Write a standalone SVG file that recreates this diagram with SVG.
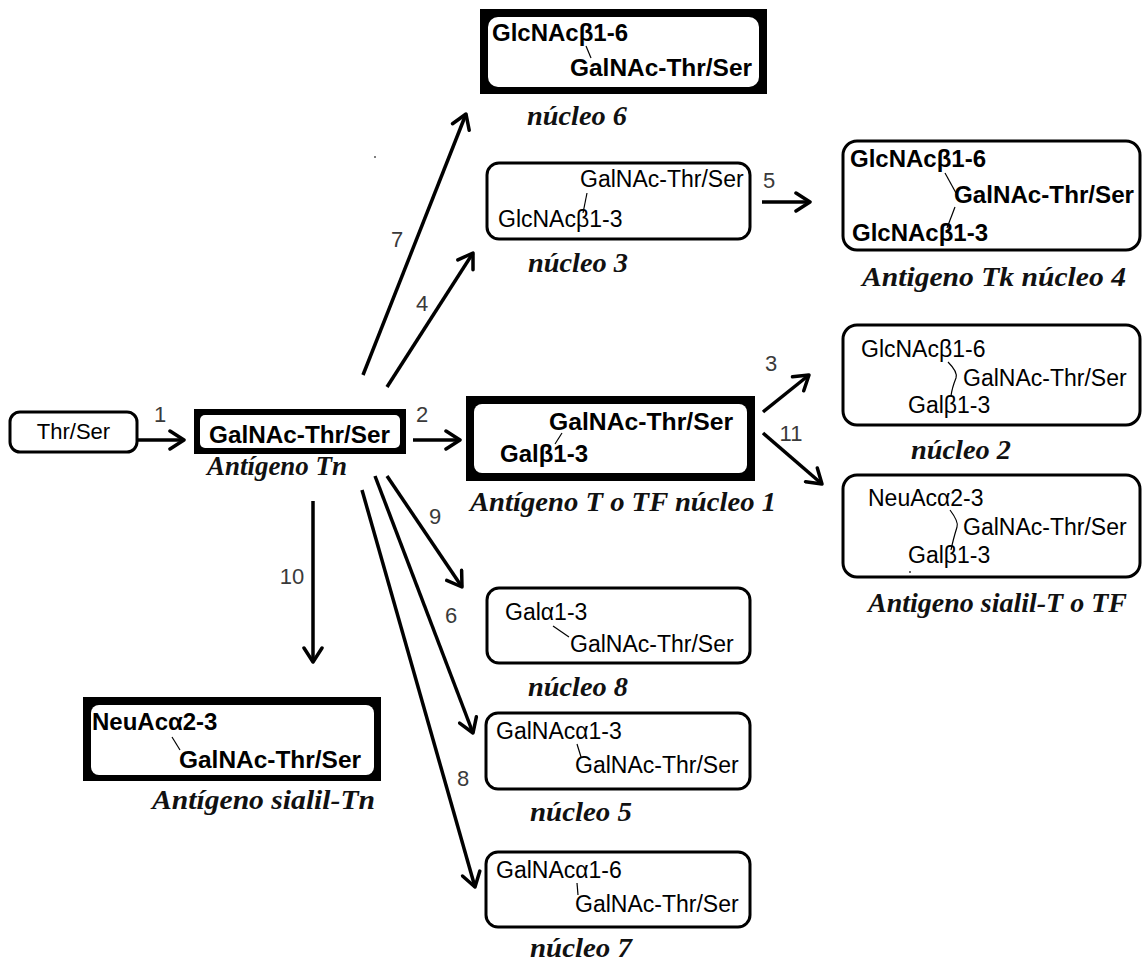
<svg xmlns="http://www.w3.org/2000/svg" width="1144" height="963" viewBox="0 0 1144 963">
<defs>
<style>
.box{fill:#fff;stroke:#000;stroke-width:3}
.blk{fill:#000}
.inner{fill:#fff}
.t{font-family:"Liberation Sans",Arial,sans-serif;font-size:23px;fill:#000}
.b{font-weight:bold;font-size:24px}
.lab{font-family:"Liberation Serif","Times New Roman",serif;font-style:italic;font-weight:bold;font-size:28px;fill:#111}
.num{font-family:"Liberation Sans",Arial,sans-serif;font-size:22px;fill:#3a3a3a;text-anchor:middle}
.link{stroke:#000;stroke-width:1.2;fill:none}
.arr{stroke:#000;stroke-width:3.5;fill:none;marker-end:url(#ah)}
</style>
<marker id="ah" viewBox="0 0 20 22" refX="17" refY="11" markerWidth="20" markerHeight="22" markerUnits="userSpaceOnUse" orient="auto">
<path d="M3,2 L17,11 L3,20" fill="none" stroke="#000" stroke-width="3.5" stroke-linecap="round" stroke-linejoin="round"/>
</marker>
</defs>
<rect width="1144" height="963" fill="#fff"/>

<g id="connectors">
<path class="arr" d="M137,440 L184,440"/>
<path class="arr" d="M413,440 L460,440"/>
<path class="arr" d="M363,375 L466,114"/>
<path class="arr" d="M387,387 L473,253"/>
<path class="arr" d="M762,202 L810,202"/>
<path class="arr" d="M763,412 L809,375"/>
<path class="arr" d="M763,433 L822,484"/>
<path class="arr" d="M387,476 L462,587"/>
<path class="arr" d="M375,476 L473,733"/>
<path class="arr" d="M362,490 L475,887"/>
<path class="arr" d="M313,501 L313,662"/>
<text class="num" x="160" y="422">1</text>
<text class="num" x="422" y="422">2</text>
<text class="num" x="397" y="247">7</text>
<text class="num" x="422" y="311">4</text>
<text class="num" x="769" y="188">5</text>
<text class="num" x="771" y="371">3</text>
<text class="num" x="791" y="441">11</text>
<text class="num" x="435" y="524">9</text>
<text class="num" x="451" y="623">6</text>
<text class="num" x="463" y="786">8</text>
<text class="num" x="292" y="584">10</text>
</g>

<g id="thrser">
<rect class="box" x="10" y="412" width="127" height="40" rx="10"/>
<text class="t" x="73.5" y="439" text-anchor="middle" style="font-size:22px">Thr/Ser</text>
</g>

<g id="tn">
<rect class="blk" x="194" y="409" width="212" height="45"/>
<rect class="inner" x="200" y="415" width="200" height="33" rx="5"/>
<text class="t b" x="209" y="443" textLength="181" lengthAdjust="spacingAndGlyphs">GalNAc-Thr/Ser</text>
<text class="lab" x="207" y="475" textLength="140" lengthAdjust="spacingAndGlyphs">Antígeno Tn</text>
</g>

<g id="nucleo1">
<rect class="blk" x="466" y="396" width="289" height="85"/>
<rect class="inner" x="474" y="404" width="273" height="69" rx="8"/>
<text class="t b" x="549" y="430" textLength="184" lengthAdjust="spacingAndGlyphs">GalNAc-Thr/Ser</text>
<text class="t b" x="500" y="462">Galβ1-3</text>
<path class="link" d="M562,433 L555,444"/>
<text class="lab" x="470" y="511" textLength="306" lengthAdjust="spacingAndGlyphs">Antígeno T o TF núcleo 1</text>
</g>

<g id="nucleo6">
<rect class="blk" x="480" y="9" width="287" height="85"/>
<rect class="inner" x="488" y="17" width="271" height="70" rx="10"/>
<text class="t b" x="492" y="41">GlcNAcβ1-6</text>
<text class="t b" x="570" y="76" textLength="182" lengthAdjust="spacingAndGlyphs">GalNAc-Thr/Ser</text>
<path class="link" d="M586,46 L591,58"/>
<text class="lab" x="527" y="125" textLength="100" lengthAdjust="spacingAndGlyphs">núcleo 6</text>
</g>

<g id="nucleo3">
<rect class="box" x="487" y="163" width="263" height="76" rx="12"/>
<text class="t" x="580" y="187">GalNAc-Thr/Ser</text>
<text class="t" x="498" y="227">GlcNAcβ1-3</text>
<path class="link" d="M587,193 L583,213"/>
<text class="lab" x="528" y="272" textLength="100" lengthAdjust="spacingAndGlyphs">núcleo 3</text>
</g>

<g id="nucleo4">
<rect class="box" x="843" y="141" width="297" height="109" rx="14"/>
<text class="t b" x="850" y="167">GlcNAcβ1-6</text>
<text class="t b" x="954" y="203" textLength="180" lengthAdjust="spacingAndGlyphs">GalNAc-Thr/Ser</text>
<text class="t b" x="852" y="241">GlcNAcβ1-3</text>
<path class="link" d="M945,173 L956,193"/>
<path class="link" d="M955,207 L947,228"/>
<text class="lab" x="862" y="286" textLength="264" lengthAdjust="spacingAndGlyphs">Antigeno Tk núcleo 4</text>
</g>

<g id="nucleo2">
<rect class="box" x="843" y="325" width="297" height="100" rx="14"/>
<text class="t" x="861" y="357">GlcNAcβ1-6</text>
<text class="t" x="963" y="386">GalNAc-Thr/Ser</text>
<text class="t" x="908" y="413">Galβ1-3</text>
<path class="link" d="M948,362 Q958,372 956,378 Q952,388 951,396"/>
<text class="lab" x="911" y="459" textLength="100" lengthAdjust="spacingAndGlyphs">núcleo 2</text>
</g>

<g id="sialilT">
<rect class="box" x="843" y="475" width="297" height="102" rx="14"/>
<text class="t" x="868" y="506">NeuAcα2-3</text>
<text class="t" x="963" y="535">GalNAc-Thr/Ser</text>
<text class="t" x="908" y="563">Galβ1-3</text>
<path class="link" d="M950,510 Q959,522 957,527 Q953,540 951,550"/>
<circle cx="910" cy="572" r="1" fill="#333"/>
<text class="lab" x="868" y="612" textLength="259" lengthAdjust="spacingAndGlyphs">Antigeno sialil-T o TF</text>
</g>

<g id="nucleo8">
<rect class="box" x="487" y="588" width="263" height="75" rx="12"/>
<text class="t" x="505" y="620">Galα1-3</text>
<text class="t" x="570" y="652">GalNAc-Thr/Ser</text>
<path class="link" d="M553,626 L569,637"/>
<text class="lab" x="528" y="696" textLength="100" lengthAdjust="spacingAndGlyphs">núcleo 8</text>
</g>

<g id="nucleo5">
<rect class="box" x="486" y="713" width="264" height="76" rx="12"/>
<text class="t" x="496" y="739">GalNAcα1-3</text>
<text class="t" x="575" y="773">GalNAc-Thr/Ser</text>
<path class="link" d="M577,744 L581,757"/>
<text class="lab" x="530" y="821" textLength="102" lengthAdjust="spacingAndGlyphs">núcleo 5</text>
</g>

<g id="nucleo7">
<rect class="box" x="486" y="852" width="264" height="75" rx="12"/>
<text class="t" x="496" y="878">GalNAcα1-6</text>
<text class="t" x="575" y="912">GalNAc-Thr/Ser</text>
<path class="link" d="M577,883 L578,895"/>
<text class="lab" x="530" y="957" textLength="102" lengthAdjust="spacingAndGlyphs">núcleo 7</text>
</g>

<g id="sialilTn">
<rect class="blk" x="83" y="697" width="298" height="84"/>
<rect class="inner" x="91" y="705" width="283" height="70" rx="8"/>
<text class="t b" x="92" y="730">NeuAcα2-3</text>
<text class="t b" x="179" y="768" textLength="182" lengthAdjust="spacingAndGlyphs">GalNAc-Thr/Ser</text>
<path class="link" d="M172,737 L180,750"/>
<text class="lab" x="152" y="809" textLength="223" lengthAdjust="spacingAndGlyphs">Antígeno sialil-Tn</text>
</g>

<circle cx="375" cy="157" r="1" fill="#555"/>
</svg>
